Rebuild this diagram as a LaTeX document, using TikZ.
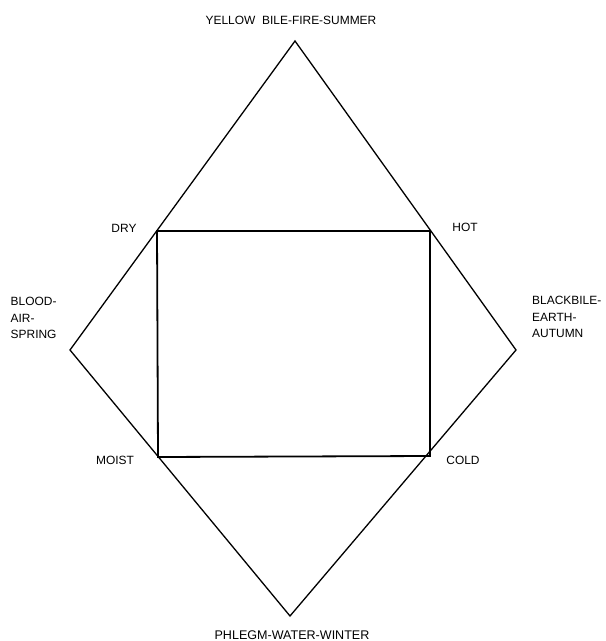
\documentclass[tikz,border=0pt]{standalone}
\usepackage{fontspec}
\setmainfont{Liberation Sans}
\begin{document}
\begin{tikzpicture}[x=1bp,y=-1bp,
  lbl/.style={inner sep=0pt,font=\fontsize{12}{16.5}\selectfont},
  outer/.style={draw=black,line width=1.3bp,line join=miter},
  inner/.style={draw=black,line width=1.8bp,line join=miter}]
\useasboundingbox (0,0) rectangle (606,641);
% outer quadrilateral vertices
\coordinate (T) at (295,41);
\coordinate (L) at (70,350);
\coordinate (B) at (290,616);
\coordinate (R) at (516,350);
% rectangle corners
\coordinate (DRY) at (157,231);
\coordinate (HOT) at (430,231);
\coordinate (COLD) at (430,456);
\coordinate (MOIST) at (158,457);
\draw[outer] (T) -- (R) -- (B) -- (L) -- cycle;
\draw[inner] (DRY) -- (HOT) -- (COLD) -- (MOIST) -- cycle;
% labels
\node[lbl,anchor=base] (tT) at (291,24.3) {YELLOW\ \ BILE-FIRE-SUMMER};
\node[lbl,anchor=base] (tB) at (292,639) {\fontsize{12.6}{15}\selectfont PHLEGM-WATER-WINTER};
\node[lbl,anchor=base] (tDry) at (124,232) {DRY};
\node[lbl,anchor=base] (tHot) at (465,231) {HOT};
\node[lbl,anchor=base] (tMoist) at (115,464) {MOIST};
\node[lbl,anchor=base] (tCold) at (463,464) {COLD};
\node[lbl,anchor=base west,align=left] (tL) at (10.5,338.5) {BLOOD-\\AIR-\\SPRING};
\node[lbl,anchor=base west,align=left] (tR) at (532,337.5) {BLACKBILE-\\EARTH-\\AUTUMN};
\end{tikzpicture}
\end{document}
